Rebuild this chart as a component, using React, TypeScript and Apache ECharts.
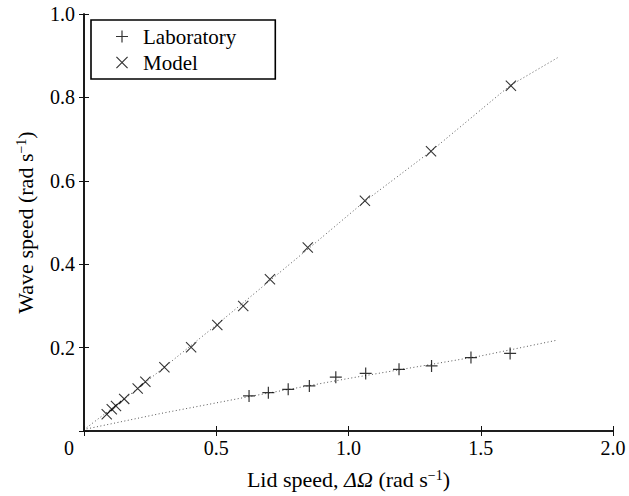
import React, { useEffect, useRef } from "react";
import * as echarts from "echarts";

const labX = [0.624, 0.697, 0.772, 0.852, 0.952, 1.065, 1.191, 1.314, 1.463, 1.611];
const labY = [0.084, 0.092, 0.1, 0.108, 0.129, 0.138, 0.148, 0.156, 0.176, 0.186];

const modelX = [0.086, 0.105, 0.121, 0.152, 0.203, 0.232, 0.304, 0.405, 0.504, 0.602, 0.703, 0.846, 1.062, 1.312, 1.614];
const modelY = [0.04, 0.052, 0.06, 0.077, 0.102, 0.118, 0.153, 0.201, 0.254, 0.3, 0.364, 0.44, 0.552, 0.671, 0.828];

const labFitX = [0.01, 0.29, 0.62, 1.0, 1.5, 1.79];
const labFitY = [0.005, 0.042, 0.082, 0.126, 0.18, 0.218];

const modelFitX = [0.01, 0.2, 0.5, 0.85, 1.06, 1.31, 1.61, 1.79];
const modelFitY = [0.008, 0.1, 0.254, 0.438, 0.55, 0.67, 0.828, 0.895];

const xTickStep = 0.5;
const yTickStep = 0.2;

const PLUS = "path://M0,4.5H10V5.5H0Z M4.5,0H5.5V10H4.5Z";
const CROSS = "path://M0,0.7L0.7,0L10,9.3L9.3,10Z M10,0.7L0.7,10L0,9.3L9.3,0Z";

const FONT = "Liberation Serif";

const zip = (a: number[], b: number[]) => a.map((v, i) => [v, b[i]]);

export default function App() {
  const ref = useRef<HTMLDivElement>(null);
  useEffect(() => {
    if (!ref.current) return;
    const chart = echarts.init(ref.current, null, { renderer: "svg" });
    const axisLine = { show: true, lineStyle: { color: "#111", width: 1.6 } };
    const tick = { show: true, inside: true, length: 5, lineStyle: { color: "#111", width: 1 } };
    const supStyle = { fontFamily: FONT, fontSize: 14, color: "#000", verticalAlign: "top", lineHeight: 14 };
    chart.setOption({
      animation: false,
      backgroundColor: "#fff",
      textStyle: { fontFamily: FONT },
      grid: { left: 84, top: 14, right: 16, bottom: 65, containLabel: false },
      legend: {
        left: 91,
        top: 20,
        orient: "vertical",
        data: [
          { name: "Laboratory", icon: PLUS },
          { name: "Model", icon: CROSS },
        ],
        itemWidth: 32,
        itemHeight: 12,
        itemGap: 5,
        padding: [6, 39, 6, 25],
        borderColor: "#000",
        borderWidth: 1.6,
        backgroundColor: "#fff",
        itemStyle: { color: "#000" },
        textStyle: { fontFamily: FONT, fontSize: 21, color: "#000" },
      },
      xAxis: [
        {
          type: "value",
          min: 0,
          max: 2,
          interval: xTickStep,
          axisLine,
          axisTick: tick,
          splitLine: { show: false },
          axisLabel: {
            margin: 7,
            fontFamily: FONT,
            fontSize: 20,
            color: "#000",
            formatter: (v: number) => (v === 0 ? "{z|0}" : v.toFixed(1)),
            rich: { z: { fontFamily: FONT, fontSize: 20, color: "#000", padding: [0, 30, 0, 0] } },
          },
          name: "Lid speed, {i|ΔΩ} (rad s{sup|−1})",
          nameLocation: "middle",
          nameGap: 37,
          nameTextStyle: {
            fontFamily: FONT,
            fontSize: 22,
            color: "#000",
            rich: {
              i: { fontFamily: FONT, fontSize: 22, fontStyle: "italic", color: "#000" },
              sup: supStyle,
            },
          },
        },
        {
          type: "value",
          position: "top",
          min: 0,
          max: 2,
          interval: xTickStep,
          axisLine,
          axisTick: tick,
          axisLabel: { show: false },
          splitLine: { show: false },
        },
      ],
      yAxis: [
        {
          type: "value",
          min: 0,
          max: 1,
          interval: yTickStep,
          axisLine,
          axisTick: tick,
          splitLine: { show: false },
          axisLabel: {
            margin: 9,
            fontFamily: FONT,
            fontSize: 20,
            color: "#000",
            formatter: (v: number) => (v === 0 ? "" : v.toFixed(1)),
          },
          name: "Wave speed (rad s{sup|−1})",
          nameLocation: "middle",
          nameGap: 48,
          nameTextStyle: {
            fontFamily: FONT,
            fontSize: 22,
            color: "#000",
            rich: { sup: supStyle },
          },
        },
        {
          type: "value",
          position: "right",
          min: 0,
          max: 1,
          interval: yTickStep,
          axisLine,
          axisTick: tick,
          axisLabel: { show: false },
          splitLine: { show: false },
        },
      ],
      series: [
        {
          name: "LabFit",
          type: "line",
          data: zip(labFitX, labFitY),
          showSymbol: false,
          smooth: false,
          lineStyle: { color: "#555", width: 1, type: [1, 2.5] },
          z: 1,
        },
        {
          name: "ModelFit",
          type: "line",
          data: zip(modelFitX, modelFitY),
          showSymbol: false,
          smooth: false,
          lineStyle: { color: "#555", width: 1, type: [1, 2.5] },
          z: 1,
        },
        {
          name: "Laboratory",
          type: "scatter",
          data: zip(labX, labY),
          symbol: PLUS,
          symbolSize: 12,
          itemStyle: { color: "#000" },
          z: 3,
        },
        {
          name: "Model",
          type: "scatter",
          data: zip(modelX, modelY),
          symbol: CROSS,
          symbolSize: 11,
          itemStyle: { color: "#000" },
          z: 3,
        },
      ],
    });
    return () => chart.dispose();
  }, []);
  return <div ref={ref} style={{ width: 629, height: 496, position: "absolute", left: 0, top: 0 }} />;
}
